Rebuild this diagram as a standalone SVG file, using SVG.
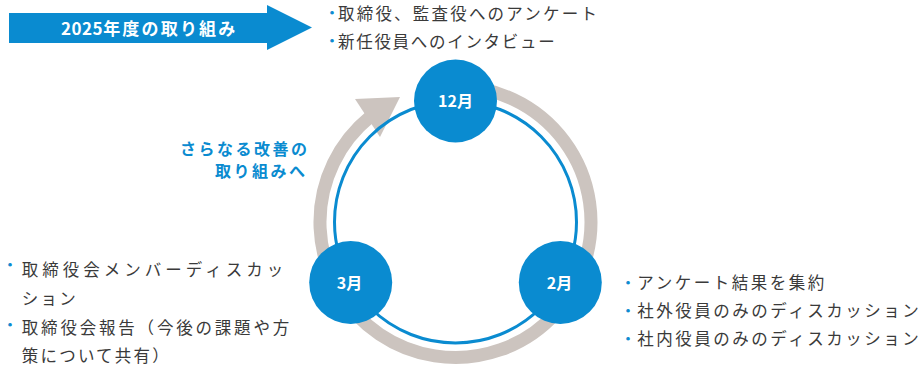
<svg xmlns="http://www.w3.org/2000/svg" width="922" height="365" viewBox="0 0 922 365">
<style>
.t{font-family:"Noto Sans CJK JP","Noto Sans",sans-serif;font-size:16.5px;fill:#3a3a3a;letter-spacing:2.2px}
.b{fill:#0a8bd0;stroke:#0a8bd0;stroke-width:0.9px;letter-spacing:0;font-size:12px}
.node circle{fill:#0a8bd0}
.node text{font-family:"Noto Sans CJK JP","Noto Sans",sans-serif;font-size:16px;font-weight:700;fill:#fff;text-anchor:middle}
.em{font-family:"Noto Sans CJK JP","Noto Sans",sans-serif;font-size:16px;font-weight:700;fill:#0a8bd0;letter-spacing:2.5px}
</style>
<rect width="922" height="365" fill="#fff"/>
<g id="banner">
<polygon points="9,13 267,13 267,5 312,27.5 267,50 267,43 9,43" fill="#0a8bd0"/>
<text x="61" y="35" font-family="'Noto Sans CJK JP','Noto Sans',sans-serif" font-size="17" font-weight="700" fill="#fff"><tspan letter-spacing="0.5">2025</tspan><tspan letter-spacing="2.2">年度の取り組み</tspan></text>
</g>
<g id="connectors">
<path d="M455.5 86.5 A135.5 135.5 0 1 1 370.2 116.7" fill="none" stroke="#ccc4bf" stroke-width="13"/>
<polygon points="355,99 400,97 380,137" fill="#ccc4bf"/>
<circle cx="455.5" cy="222" r="121" fill="none" stroke="#0a8bd0" stroke-width="3"/>
</g>
<g id="node-12" class="node"><circle cx="455.5" cy="101" r="41.5"/><text x="455.5" y="107">12月</text></g>
<g id="node-2" class="node"><circle cx="560.3" cy="282.5" r="41.5"/><text x="559.5" y="288.5">2月</text></g>
<g id="node-3" class="node"><circle cx="350.7" cy="282.5" r="41.5"/><text x="349.5" y="288.5">3月</text></g>
<g id="label-improve">
<text class="em" x="180" y="155">さらなる改善の</text>
<text class="em" x="215" y="177">取り組みへ</text>
</g>
<g id="text-12">
<text class="t"><tspan class="b" x="326" y="18.2">・</tspan><tspan x="338" y="19.8">取締役、監査役へのアンケート</tspan></text>
<text class="t"><tspan class="b" x="326" y="46.2">・</tspan><tspan x="338" y="47.8" letter-spacing="1.7">新任役員へのインタビュー</tspan></text>
</g>
<g id="text-3">
<text class="t"><tspan class="b" x="4" y="270">・</tspan><tspan x="21.8" y="276.3" letter-spacing="4">取締役会メンバーディスカッ</tspan></text>
<text class="t" x="21.8" y="305" letter-spacing="4">ション</text>
<text class="t"><tspan class="b" x="4" y="330">・</tspan><tspan x="21.8" y="334" letter-spacing="2.8">取締役会報告（今後の課題や方</tspan></text>
<text class="t" x="21.8" y="361.5" letter-spacing="2.8">策について共有）</text>
</g>
<g id="text-2">
<text class="t"><tspan class="b" x="622" y="287.7">・</tspan><tspan x="637.3" y="289.3" letter-spacing="2.5">アンケート結果を集約</tspan></text>
<text class="t"><tspan class="b" x="622" y="315.7">・</tspan><tspan x="637.3" y="317.3" letter-spacing="2.5">社外役員のみのディスカッション</tspan></text>
<text class="t"><tspan class="b" x="622" y="343.7">・</tspan><tspan x="637.3" y="345.3" letter-spacing="2.5">社内役員のみのディスカッション</tspan></text>
</g>
</svg>
